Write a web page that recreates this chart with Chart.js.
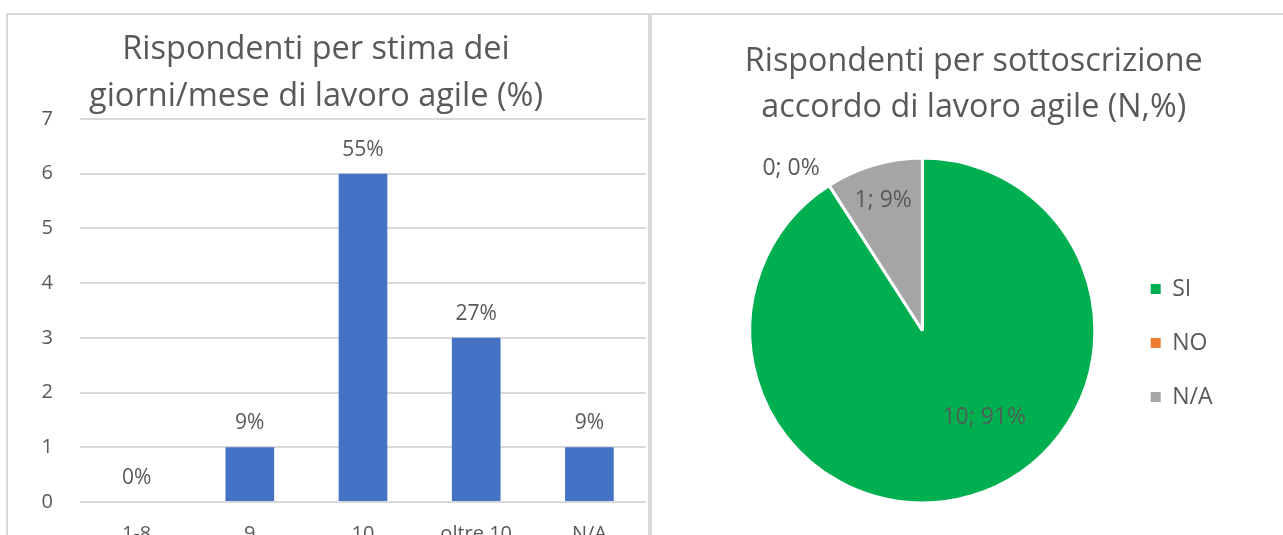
<!DOCTYPE html>
<html>
<head>
<meta charset="utf-8">
<script src="https://cdn.jsdelivr.net/npm/chart.js@4"></script>
<style>
	html, body { margin: 0; padding: 0; background: #fff; overflow: hidden; }
	body { width: 1283px; height: 535px; position: relative; }
	.panel { position: absolute; top: 13px; box-sizing: border-box; border: 2px solid #d9d9d9; border-bottom: none; overflow: hidden; }
	#left { left: 6px; width: 644px; height: 560px; }
	#right { left: 650px; width: 660px; height: 560px; border-right: none; }
	canvas { display: block; }
</style>
</head>
<body>
<div class="panel" id="left"><canvas id="barChart" width="640" height="560"></canvas></div>
<div class="panel" id="right"><canvas id="pieChart" width="640" height="520"></canvas></div>
<script>
const barCategories = ["1-8", "9", "10", "oltre 10", "N/A"]
const barValues = [0, 1, 6, 3, 1]
const yTicks = [0, 1, 2, 3, 4, 5, 6, 7]

const pieCategories = ["SI", "NO", "N/A"]
const pieValues = [10, 0, 1]
const pieColors = ["#00B050", "#ED7D31", "#A5A5A5"]

const grey = "#595959"
Chart.defaults.font.family = "'Open Sans'"
Chart.defaults.color = grey

const pct = (v, arr) => Math.round(v / arr.reduce((a, b) => a + b, 0) * 100) + "%"

// etichette sopra le barre
const barLabels = {
	id: "barLabels",
	afterDatasetsDraw(chart) {
		const ctx = chart.ctx
		const meta = chart.getDatasetMeta(0)
		ctx.save()
		ctx.font = "21px 'Open Sans'"
		ctx.fillStyle = grey
		ctx.textAlign = "center"
		ctx.textBaseline = "middle"
		meta.data.forEach((bar, i) => {
			ctx.fillText(pct(barValues[i], barValues), bar.x, bar.y - 24)
		})
		ctx.restore()
	}
}

// etichette "N; %" della torta (angolo in gradi, distanza in frazione del raggio)
const pieLabels = {
	id: "pieLabels",
	afterDatasetsDraw(chart, args, opts) {
		const ctx = chart.ctx
		const meta = chart.getDatasetMeta(0)
		ctx.save()
		ctx.font = "23px 'Open Sans'"
		ctx.textAlign = "center"
		ctx.textBaseline = "middle"
		meta.data.forEach((arc, i) => {
			const { x, y, outerRadius } = arc.getProps(["x", "y", "outerRadius"], true)
			const [deg, f, color] = opts.spots[i]
			const a = deg * Math.PI / 180
			ctx.fillStyle = color
			ctx.fillText(pieValues[i] + "; " + pct(pieValues[i], pieValues), x + Math.cos(a) * outerRadius * f, y + Math.sin(a) * outerRadius * f + 2)
		})
		ctx.restore()
	}
}

new Chart(document.getElementById("barChart"), {
	type: "bar",
	data: {
		labels: barCategories,
		datasets: [{
			data: barValues,
			backgroundColor: "#4472C4",
			barPercentage: 1,
			categoryPercentage: 0.43
		}]
	},
	options: {
		responsive: false,
		animation: false,
		layout: { padding: { left: -22, right: 2, top: 0, bottom: 0 } },
		plugins: {
			legend: { display: false },
			tooltip: { enabled: false },
			title: {
				display: true,
				text: ["Rispondenti per stima dei", "giorni/mese di lavoro agile (%)"],
				color: grey,
				font: { size: 32.5, weight: "normal", lineHeight: 1.446 },
				padding: { top: 11.5, bottom: -1.5 }
			}
		},
		scales: {
			x: {
				grid: { display: false, drawTicks: false },
				border: { display: false },
				ticks: { font: { size: 20 }, color: grey, padding: 20 },
				afterFit: s => { s.height = 73 }
			},
			y: {
				min: 0,
				max: 7,
				afterBuildTicks: s => { s.ticks = yTicks.map(v => ({ value: v })) },
				grid: { color: "#d9d9d9", lineWidth: 2, drawTicks: false },
				border: { display: false },
				ticks: { font: { size: 20 }, color: grey, padding: 27 },
				afterFit: s => { s.width = 94 }
			}
		}
	},
	plugins: [barLabels]
})

new Chart(document.getElementById("pieChart"), {
	type: "pie",
	data: {
		labels: pieCategories,
		datasets: [{
			data: pieValues,
			backgroundColor: pieColors,
			borderColor: "#ffffff",
			borderWidth: 3
		}]
	},
	options: {
		responsive: false,
		animation: false,
		layout: { padding: { left: 73, right: 69.5, top: 0, bottom: 30.5 } },
		plugins: {
			tooltip: { enabled: false },
			title: {
				display: true,
				text: ["Rispondenti per sottoscrizione", "accordo di lavoro agile (N,%)"],
				color: grey,
				font: { size: 32.3, weight: "normal", lineHeight: 1.424 },
				padding: { top: 24, bottom: 25.5 }
			},
			legend: {
				position: "right",
				fullSize: false,
				title: { display: true, text: "", font: { size: 12, lineHeight: 1.2 }, padding: { top: 10.6, bottom: 0 } },
				labels: {
					boxWidth: 10,
					boxHeight: 10,
					padding: 31,
					color: grey,
					font: { size: 23 },
					generateLabels: chart => Chart.overrides.pie.plugins.legend.labels.generateLabels(chart).map(l => ({ ...l, lineWidth: 0 }))
				}
			},
			pieLabels: {
				spots: [[54, 0.61, "#4d5e55"], [-128.7, 1.217, grey], [-106.5, 0.8, grey]]
			}
		}
	},
	plugins: [pieLabels]
})
</script>
</body>
</html>
